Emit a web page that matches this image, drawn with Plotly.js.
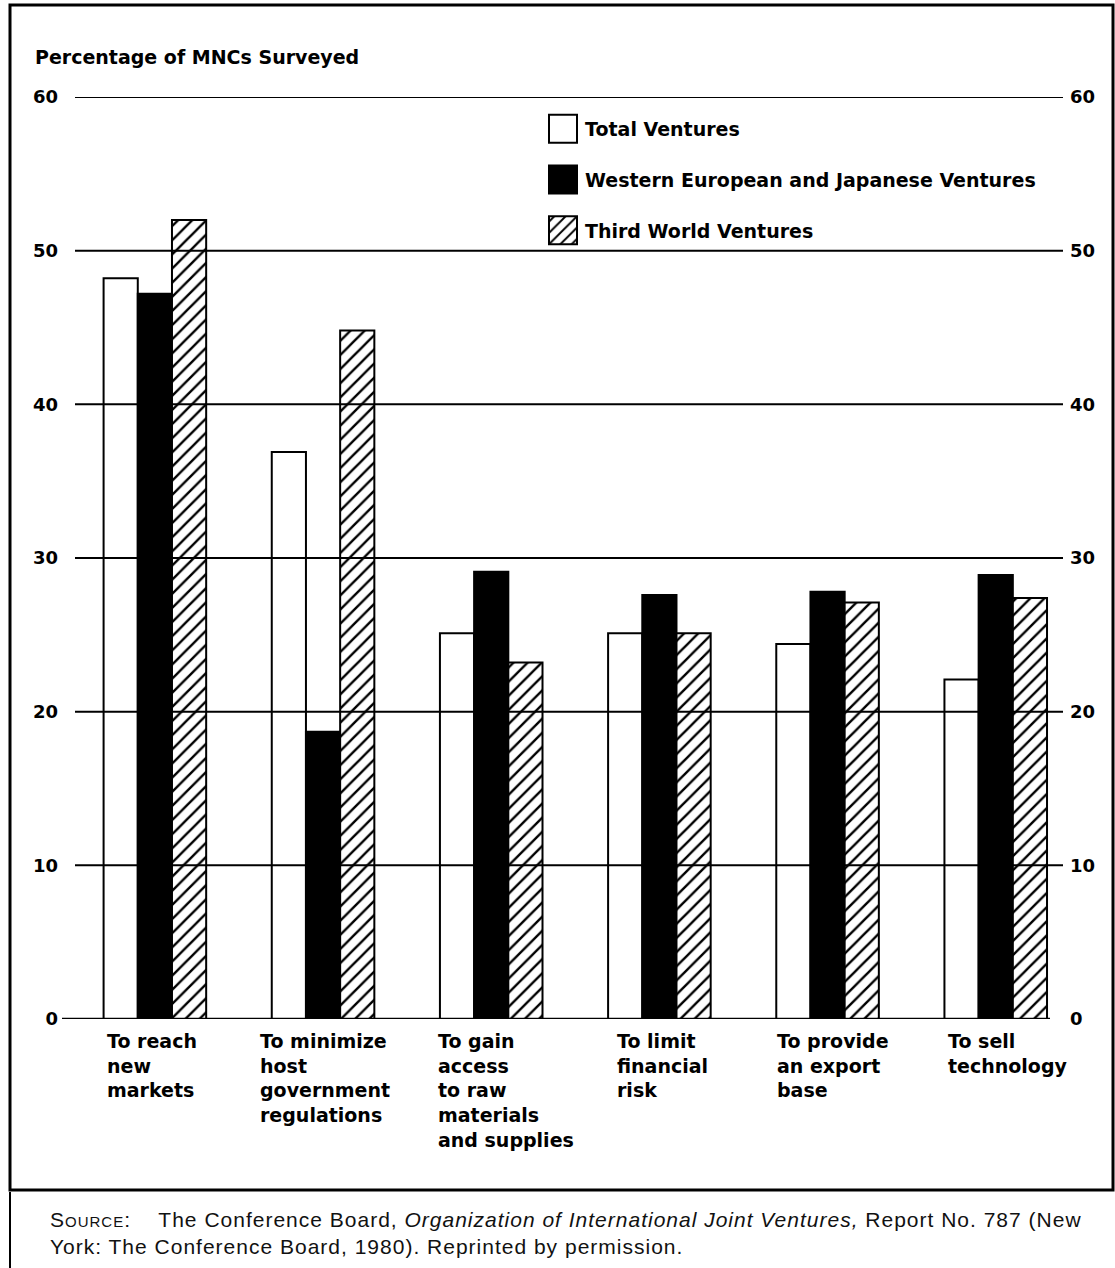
<!DOCTYPE html>
<html><head><meta charset="utf-8">
<script src="https://cdn.plot.ly/plotly-3.0.1.min.js"></script>
<style>body{margin:0;background:#fff}</style>
</head><body>
<div id="chart" style="width:1115px;height:1268px"></div>
<script>
// ---- data ----
const categories = ["reach", "minimize", "gain", "limit", "provide", "sell"];
const categoryLabels = [
  "To reach<br>new<br>markets",
  "To minimize<br>host<br>government<br>regulations",
  "To gain<br>access<br>to raw<br>materials<br>and supplies",
  "To limit<br>financial<br>risk",
  "To provide<br>an export<br>base",
  "To sell<br>technology"
];
const seriesNames = ["Total Ventures", "Western European and Japanese Ventures", "Third World Ventures"];
const totalVentures = [48.2, 36.9, 25.1, 25.1, 24.4, 22.1];
const westernJapanVentures = [47.2, 18.7, 29.1, 27.6, 27.8, 28.9];
const thirdWorldVentures = [52.0, 44.8, 23.2, 25.1, 27.1, 27.4];
const tickValues = [0, 10, 20, 30, 40, 50, 60];
const yTitle = "Percentage of MNCs Surveyed";

// ---- layout helpers (pixel -> paper) ----
const W = 1115, H = 1268;
const M = {l: 75, r: 52, t: 97, b: 249};
const PW = W - M.l - M.r, PH = H - M.t - M.b;
const px = x => (x - M.l) / PW;
const py = y => (H - M.b - y) / PH;
// typographic nudges of the category label blocks (pixels)
const labelNudge = [2, -13, -3, 8, 0, 2];

const F = "DejaVu Sans, Verdana, sans-serif";
const lineStyle = {color: "#000", width: 2};

const traces = [
  {type: "bar", x: categories, y: totalVentures, name: seriesNames[0], legendgroup: "a",
   marker: {color: "#fff", line: lineStyle}, hoverinfo: "skip"},
  {type: "bar", x: categories, y: westernJapanVentures, name: seriesNames[1], legendgroup: "b",
   marker: {color: "#000", line: lineStyle}, hoverinfo: "skip"},
  {type: "bar", x: categories, y: thirdWorldVentures, name: seriesNames[2], legendgroup: "c",
   marker: {color: "#fff", line: lineStyle,
            pattern: {shape: "/", size: 10, solidity: 0.24, fgcolor: "#000", bgcolor: "#fff"}},
   hoverinfo: "skip"},
  {type: "scatter", x: categories, y: totalVentures, yaxis: "y2", mode: "markers",
   marker: {opacity: 0}, showlegend: false, hoverinfo: "skip"}
];

const shapes = [];
tickValues.forEach(v => {
  if (v === 0) {
    shapes.push({type: "line", xref: "paper", yref: "y", x0: px(62), x1: px(1050), y0: v, y1: v,
                 line: {color: "#000", width: 2.5}, layer: "above"});
  } else {
    shapes.push({type: "line", xref: "paper", yref: "y", x0: 0, x1: 1, y0: v, y1: v,
                 line: {color: "#000", width: 2}, layer: "above"});
  }
});
// outer frame and source bar
shapes.push({type: "rect", xref: "paper", yref: "paper", x0: px(10), x1: px(1113), y0: py(1190), y1: py(5),
             line: {color: "#000", width: 3}, layer: "below"});
shapes.push({type: "line", xref: "paper", yref: "paper", x0: px(10), x1: px(10), y0: py(1268), y1: py(1192),
             line: {color: "#000", width: 2}});

const annotations = [];
annotations.push({xref: "paper", yref: "paper", x: px(33), y: py(57), xanchor: "left", yanchor: "middle",
  text: "<b>" + yTitle + "</b>", showarrow: false, font: {family: F, size: 19, color: "#000"}});
categoryLabels.forEach((t, i) => {
  annotations.push({xref: "x", yref: "paper", x: i - 0.31, xshift: labelNudge[i], y: py(1028),
    xanchor: "left", yanchor: "top",
    align: "left", text: "<b>" + t + "</b>", showarrow: false,
    font: {family: F, size: 19, color: "#000"}});
});
annotations.push({xref: "paper", yref: "paper", x: px(48), y: py(1206), xanchor: "left", yanchor: "top",
  align: "left", showarrow: false, font: {family: "Liberation Sans, Arial, sans-serif", size: 21, color: "#111"},
  text: "S<span style=\"font-size:15px\">OURCE</span>:&nbsp;&nbsp;&nbsp;&nbsp;The Conference Board, <i>Organization of International Joint Ventures,</i> Report No. 787 (New<br>York: The Conference Board, 1980). Reprinted by permission."});

const tickFont = {family: F, size: 18, color: "#000", weight: "bold"};
const layout = {
  width: W, height: H,
  margin: M,
  paper_bgcolor: "#fff", plot_bgcolor: "#fff",
  barmode: "group", bargap: 0.39, bargroupgap: 0,
  showlegend: true,
  legend: {x: px(541), y: py(110), xanchor: "left", yanchor: "top", traceorder: "grouped",
           tracegroupgap: 23, bgcolor: "rgba(0,0,0,0)", itemwidth: 34,
           font: {family: F, size: 19, color: "#000", weight: "bold"},
           itemclick: false, itemdoubleclick: false},
  xaxis: {type: "category", range: [-0.475, 5.40], showticklabels: false, showgrid: false,
          zeroline: false, showline: false, ticks: ""},
  yaxis: {range: [0, 60], tickvals: tickValues, showgrid: false, zeroline: false, showline: false,
          ticks: "", ticklabelstandoff: 16, tickfont: tickFont},
  yaxis2: {range: [0, 60], tickvals: tickValues, overlaying: "y", side: "right", showgrid: false,
           zeroline: false, showline: false, ticks: "", ticklabelstandoff: 6, tickfont: tickFont},
  shapes: shapes,
  annotations: annotations
};

Plotly.newPlot("chart", traces, layout, {staticPlot: true, displayModeBar: false}).then(gd => {
  gd.querySelectorAll(".legend .legendpoints path").forEach(p => {
    p.setAttribute("d", "M14,14H-14V-14H14Z");
  });
  // source note: slightly tracked-out type like the printed original
  const anns = gd.querySelectorAll(".annotation-text");
  const src = anns[anns.length - 1];
  if (src) src.style.letterSpacing = "1px";
});
</script>
</body></html>
